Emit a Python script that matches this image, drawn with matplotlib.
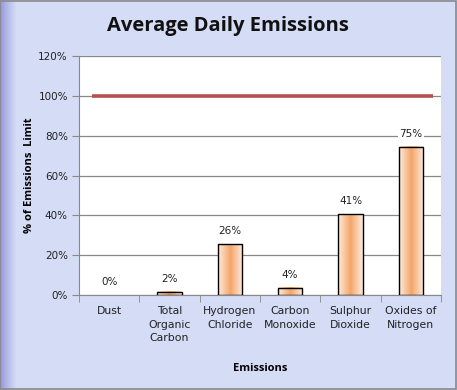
import numpy as np
import matplotlib
matplotlib.use("Agg")
import matplotlib.pyplot as plt
from matplotlib.colors import LinearSegmentedColormap

categories = ["Dust", "Total\nOrganic\nCarbon", "Hydrogen\nChloride", "Carbon\nMonoxide", "Sulphur\nDioxide", "Oxides of\nNitrogen"]
values = [0.0, 1.6, 25.6, 3.6, 40.5, 74.5]
labels = ["0%", "2%", "26%", "4%", "41%", "75%"]
limit = 100
yticks = [0, 20, 40, 60, 80, 100, 120]

W, H = 457, 390
fig = plt.figure(figsize=(W / 100, H / 100), dpi=100)

# background with left gradient
bg = fig.add_axes([0, 0, 1, 1], zorder=-10)
bg.set_axis_off()
xs = np.linspace(0, 1, W)
base = np.array([0.835, 0.863, 0.965])
dark = np.array([0.58, 0.58, 0.86])
t = np.clip(xs * W / 16.0, 0, 1)[None, :, None] ** 0.8
img = dark * (1 - t) + base * t
img = np.repeat(img, 2, axis=0)
bg.imshow(img, extent=[0, 1, 0, 1], aspect="auto")
bg.add_patch(plt.Rectangle((0.001, 0.002), 0.997, 0.995, fill=False, ec="#8a8a8a", lw=1.2, transform=bg.transAxes))
bg.set_xlim(0, 1); bg.set_ylim(0, 1)

ax = fig.add_axes([79 / W, 1 - 295 / H, (441 - 79) / W, (295 - 56) / H])
ax.set_facecolor("white")
x = np.arange(len(categories))
ax.set_xlim(-0.5, len(categories) - 0.5)
ax.set_ylim(0, 120)

for yv in yticks:
    ax.axhline(yv, color="#888888", lw=0.9, zorder=1)

cmap = LinearSegmentedColormap.from_list("bar", ["#fde9de", "#f9c9a4", "#f4a468", "#f9c9a4", "#fde9de"])
grad = np.linspace(0, 1, 64)[None, :]
bw = 0.4
for xi, v, lab in zip(x, values, labels):
    if v > 0:
        ax.imshow(grad, extent=[xi - bw / 2, xi + bw / 2, 0, v], aspect="auto", cmap=cmap, zorder=2)
        ax.bar(xi, v, width=bw, facecolor="none", edgecolor="black", lw=1.0, zorder=3)
    ax.text(xi, v + 4, lab, ha="center", va="bottom", fontsize=7.5, color="#222222", zorder=4,
            bbox=dict(facecolor="white", edgecolor="none", pad=1.0))

ax.hlines(limit, -0.28, 5.37, color="#b9504e", lw=2.6, zorder=4)

ax.set_yticks(yticks)
ax.set_yticklabels([f"{v}%" for v in yticks], fontsize=7.5, color="#222222")
ax.set_xticks(x)
ax.set_xticklabels(categories, fontsize=7.8, color="#222222", linespacing=1.45, va="top")
ax.set_xticks(np.arange(-0.5, len(categories)), minor=True)
ax.tick_params(axis="x", which="major", length=0, pad=8)
ax.tick_params(axis="x", which="minor", length=5, color="#888888", direction="out")
ax.tick_params(axis="y", length=5, color="#888888", direction="out", pad=3)
for s in ["top", "right"]:
    ax.spines[s].set_visible(False)
for s in ["left", "bottom"]:
    ax.spines[s].set_color("#888888")

ax.set_ylabel("% of Emissions  Limit", fontsize=8, fontweight="bold", family="Open Sans", labelpad=2)
ax.set_xlabel("Emissions", fontsize=8, fontweight="bold", family="Open Sans", labelpad=14)

fig.text(228 / W, 1 - 26 / H, "Average Daily Emissions", ha="center", va="center",
         fontsize=14.5, fontweight="bold", family="Open Sans", color="#111111")

fig.savefig("out.png", dpi=100)
